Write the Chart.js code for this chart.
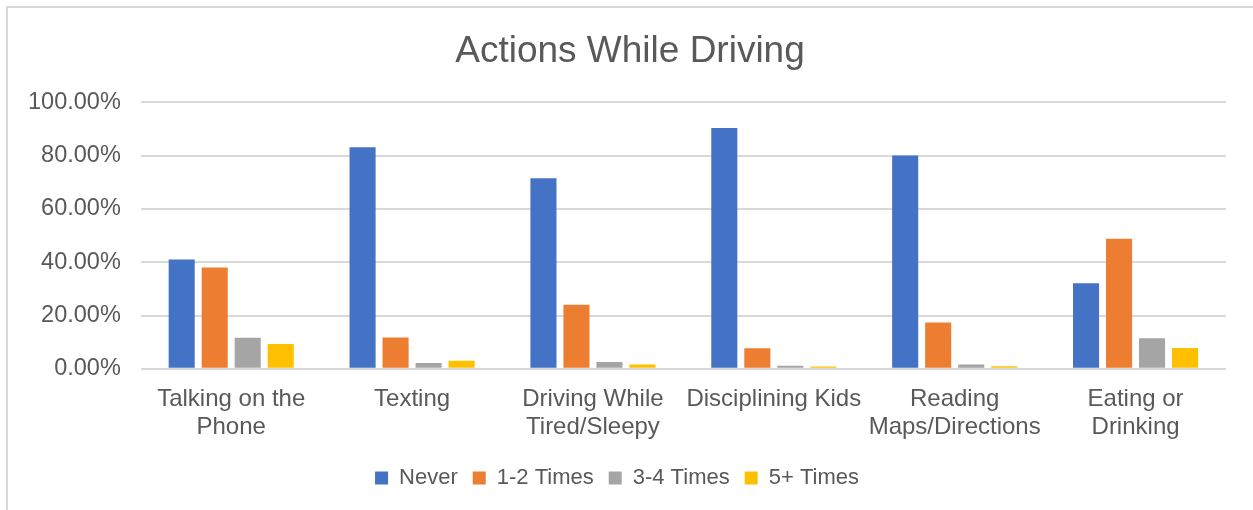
<!DOCTYPE html>
<html>
<head>
<meta charset="utf-8">
<title>Actions While Driving</title>
<script src="https://cdn.jsdelivr.net/npm/chart.js@4"></script>
<style>
  html, body { margin: 0; padding: 0; background: #fff; }
  #wrap { position: relative; width: 1253px; height: 510px; overflow: hidden; }
  #frame {
    position: absolute; left: 6px; top: 6px; width: 1300px; height: 600px;
    border-left: 2px solid #d9d9d9; border-top: 2px solid #d9d9d9;
    pointer-events: none;
  }
  canvas { position: absolute; left: 0; top: 0; }
</style>
</head>
<body>
<div id="wrap">
  <canvas id="driving-chart" width="1253" height="510"></canvas>
  <div id="frame"></div>
</div>
<script>
const categories = [
  ['Talking on the', 'Phone'],
  'Texting',
  ['Driving While', 'Tired/Sleepy'],
  'Disciplining Kids',
  ['Reading', 'Maps/Directions'],
  ['Eating or', 'Drinking']
]
// share of respondents, in percent
const never = [41.0, 83.2, 71.5, 90.4, 80.1, 32.1]
const oneTwo = [38.0, 11.8, 24.1, 7.7, 17.4, 48.8]
const threeFour = [11.7, 2.2, 2.6, 1.2, 1.6, 11.5]
const fivePlus = [9.3, 3.0, 1.6, 0.9, 1.0, 7.8]
const yTicks = [0, 20, 40, 60, 80, 100]

const textColor = '#595959'
const fontFamily = '"Liberation Sans", Arial, sans-serif'

const ctx = document.getElementById('driving-chart')

// the title sits a little right of the canvas centre
const titleNudge = {
  id: 'titleNudge',
  afterLayout(chart) {
    if (chart.titleBlock) chart.titleBlock.left += 26
  }
}

const data = {
  labels: categories,
  datasets: [
    { label: 'Never', data: never, backgroundColor: '#4472C4' },
    { label: '1-2 Times', data: oneTwo, backgroundColor: '#ED7D31' },
    { label: '3-4 Times', data: threeFour, backgroundColor: '#A5A5A5' },
    { label: '5+ Times', data: fivePlus, backgroundColor: '#FFC000' },
  ]
}

const config = {
  type: 'bar',
  data: data,
  plugins: [titleNudge],
  options: {
    responsive: false,
    animation: false,
    categoryPercentage: 0.73,
    barPercentage: 0.79,
    layout: {
      padding: { left: 8, right: 27, top: 10, bottom: 11 }
    },
    plugins: {
      title: {
        display: true,
        text: 'Actions While Driving',
        color: textColor,
        font: { family: fontFamily, size: 37, weight: 'normal' },
        padding: { top: 20, bottom: 28 }
      },
      legend: {
        position: 'bottom',
        labels: {
          color: textColor,
          font: { family: fontFamily, size: 22 },
          boxWidth: 13,
          boxHeight: 13,
          padding: 15
        }
      },
      tooltip: { enabled: false }
    },
    scales: {
      x: {
        grid: { display: false },
        border: { display: false },
        afterFit: (axis) => { axis.height += 3 },
        ticks: {
          color: textColor,
          font: { family: fontFamily, size: 24, lineHeight: 1.17 },
          padding: 8,
          maxRotation: 0,
          autoSkip: false
        }
      },
      y: {
        min: 0,
        max: 100,
        afterBuildTicks: (axis) => {
          axis.ticks = yTicks.map((v) => ({ value: v }))
        },
        grid: { color: '#d9d9d9', lineWidth: 2, drawTicks: false },
        border: { display: false },
        ticks: {
          color: textColor,
          font: { family: fontFamily, size: 23.5 },
          padding: 20,
          callback: (value) => value.toFixed(2) + '%'
        }
      }
    }
  }
}

new Chart(ctx, config)
</script>
</body>
</html>
